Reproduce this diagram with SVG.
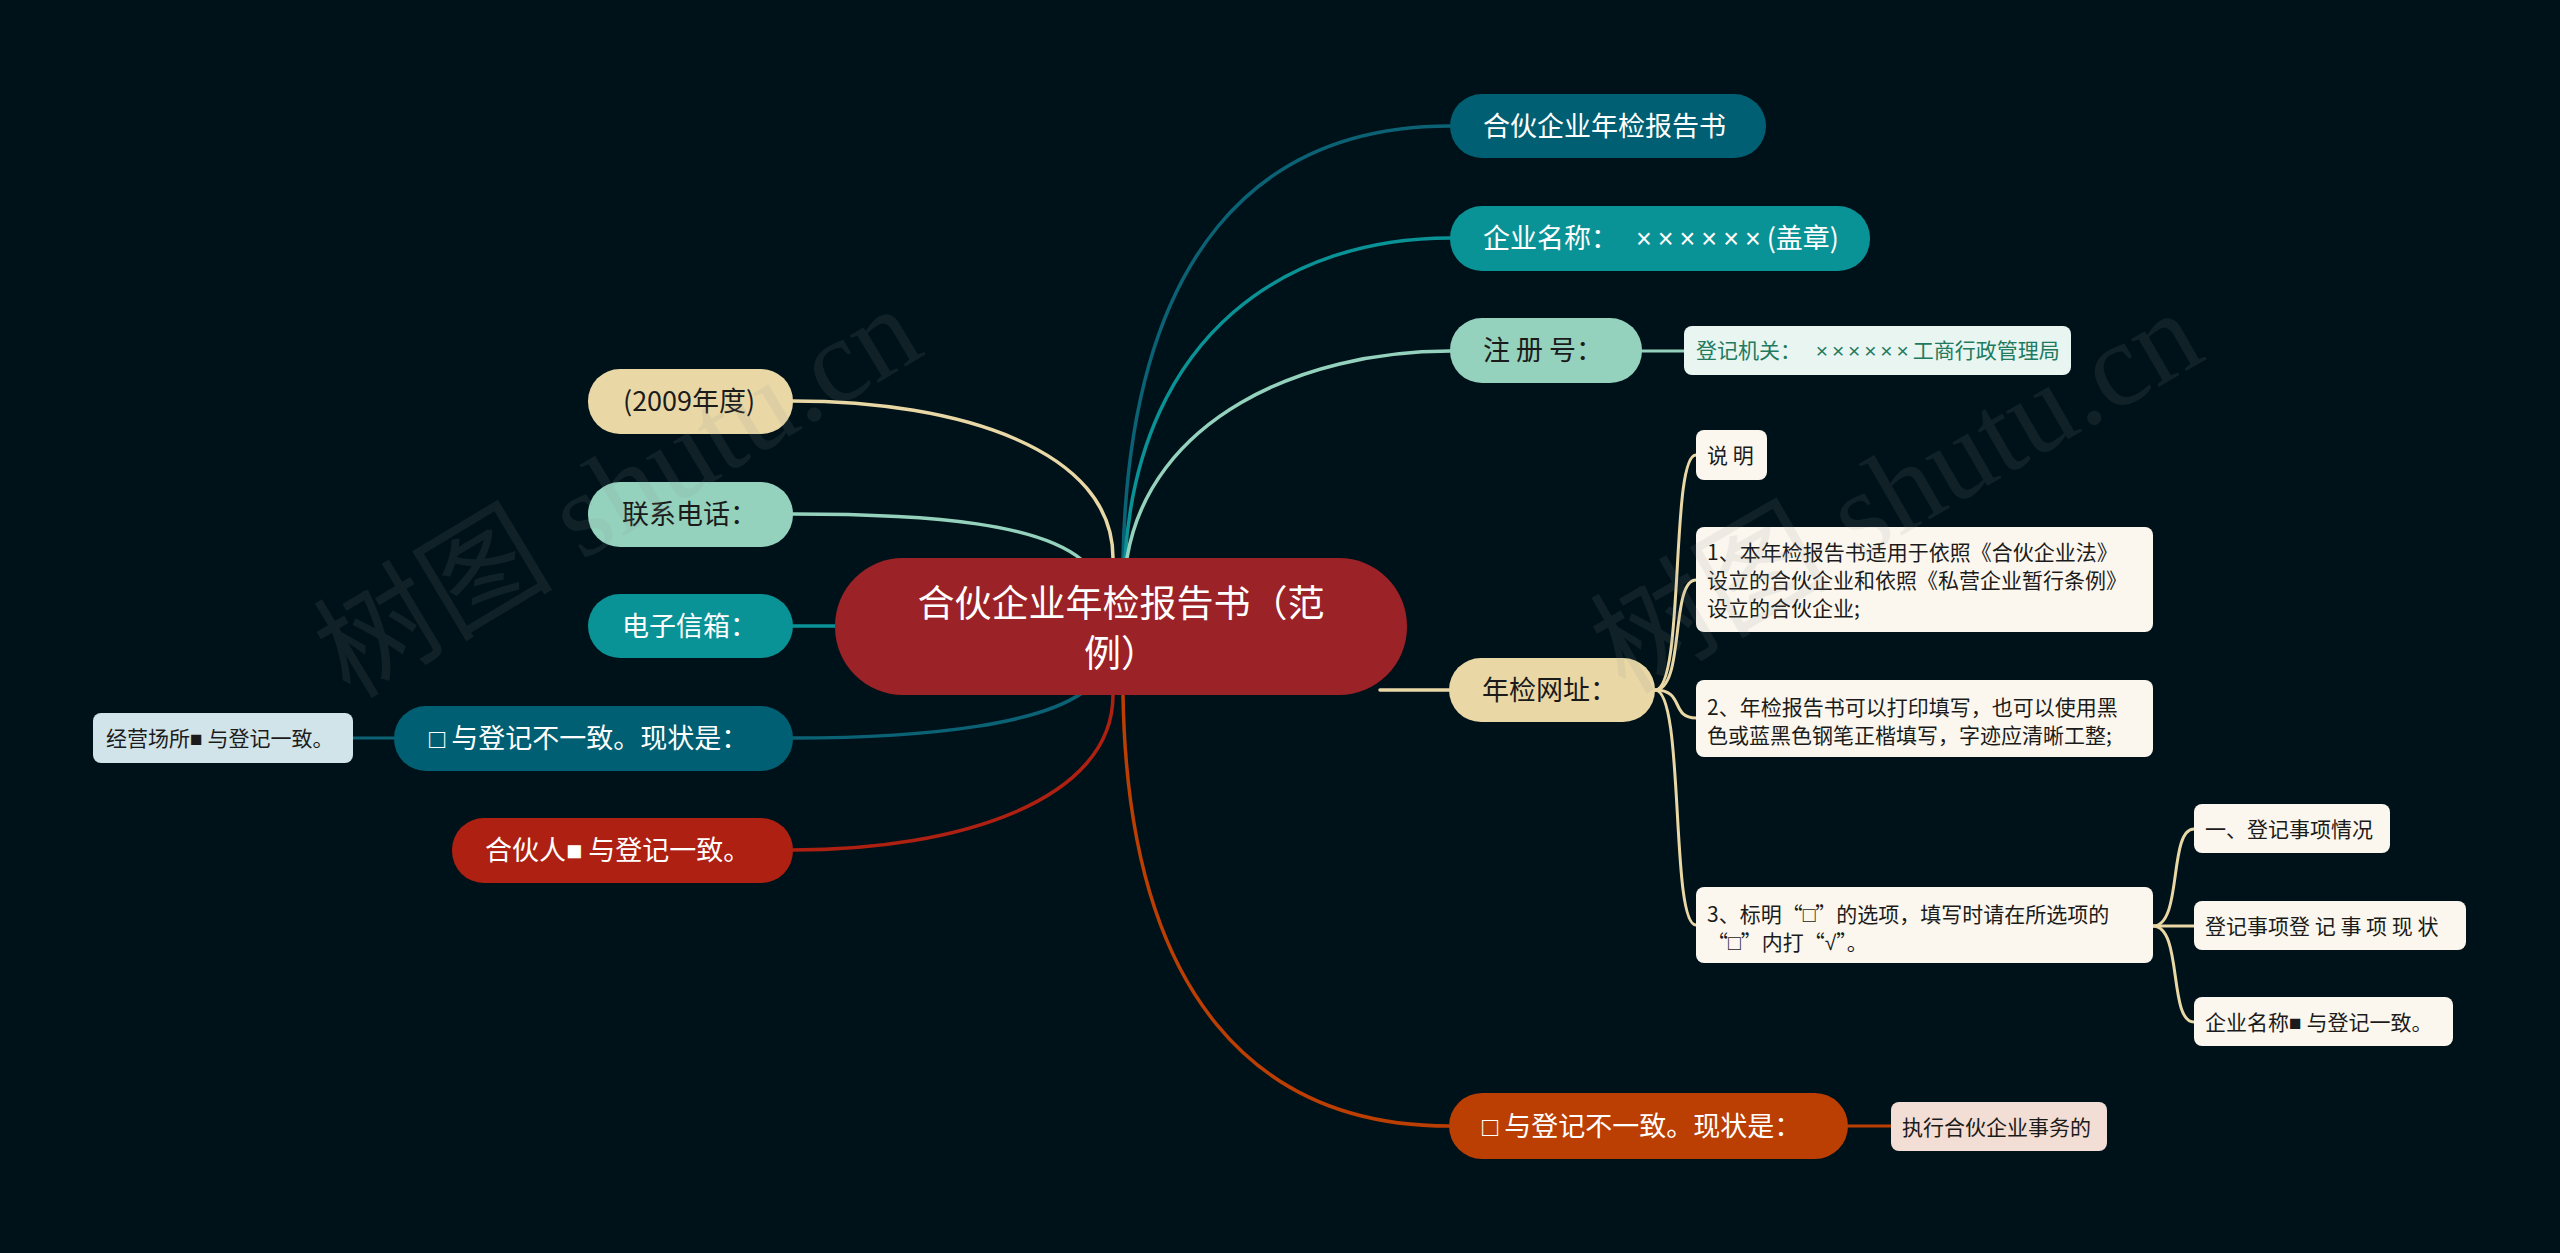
<svg xmlns="http://www.w3.org/2000/svg" width="2560" height="1253" viewBox="0 0 2560 1253">
<style>
  text { font-family: "Noto Sans CJK SC", "Noto Sans", sans-serif; }
  .tc { font-size: 37px; fill: #ffffff; }
  .t1 { font-size: 27px; }
  .ts { font-size: 21px; fill: #1b1b1b; }
  .w { fill: #ffffff; }
  .d { fill: #1b1b1b; }
  .sym { font-family: "Liberation Sans", "DejaVu Sans", sans-serif; }
  .x1 { font-family: "Liberation Sans", sans-serif; letter-spacing: 6px; }
  .x2 { font-family: "Liberation Sans", sans-serif; letter-spacing: 3.9px; }
  .c { fill: none; stroke-width: 3.5; stroke-linecap: round; }
  .cs { fill: none; stroke-width: 3; stroke-linecap: round; }
  .wm { font-family: "Liberation Serif", "Noto Sans CJK SC", serif; font-size: 120px; fill: #8a8f93; opacity: 0.12; }
</style>
<rect x="0" y="0" width="2560" height="1253" fill="#001219"/>

<g id="connectors">
  <path class="c" stroke="#0b6275" d="M1123,558 C1130,250 1260,126 1450,126"/>
  <path class="c" stroke="#0a9396" d="M1125,558 C1140,330 1290,238 1450,238"/>
  <path class="c" stroke="#94d2bd" d="M1127,558 C1150,420 1300,351 1450,351"/>
  <path class="c" stroke="#e9d8a6" d="M793,401 C960,401 1113,450 1113,558"/>
  <path class="c" stroke="#94d2bd" d="M793,514 C940,514 1040,525 1082,560"/>
  <path class="c" stroke="#0a9396" d="M793,626 H840"/>
  <path class="c" stroke="#0b6275" d="M793,738 C940,738 1040,722 1082,693"/>
  <path class="c" stroke="#ae2012" d="M793,850 C960,850 1113,800 1113,695"/>
  <path class="c" stroke="#bb3e03" d="M1123,695 C1128,1000 1260,1126 1449,1126"/>
  <path class="c" stroke="#e9d8a6" d="M1380,690 H1449"/>
  <path class="cs" stroke="#94d2bd" d="M1642,351 H1684"/>
  <path class="cs" stroke="#e9d8a6" d="M1655,690 C1685,690 1670,455 1696,455"/>
  <path class="cs" stroke="#e9d8a6" d="M1655,690 C1685,690 1670,580 1696,580"/>
  <path class="cs" stroke="#e9d8a6" d="M1655,690 C1685,690 1670,718 1696,718"/>
  <path class="cs" stroke="#e9d8a6" d="M1655,690 C1685,690 1670,925 1696,925"/>
  <path class="cs" stroke="#e9d8a6" d="M2153,926 C2183,926 2168,829 2194,829"/>
  <path class="cs" stroke="#e9d8a6" d="M2153,926 H2194"/>
  <path class="cs" stroke="#e9d8a6" d="M2153,926 C2183,926 2168,1022 2194,1022"/>
  <path class="cs" stroke="#0b6275" d="M353,738 H394"/>
  <path class="cs" stroke="#bb3e03" d="M1848,1126 H1891"/>
</g>

<g id="root">
  <rect x="835" y="558" width="572" height="137" rx="68" fill="#9b2226"/>
  <text class="tc" x="1121" y="617" text-anchor="middle">合伙企业年检报告书（范</text>
  <text class="tc" x="1121" y="667" text-anchor="middle">例）</text>
</g>

<g id="n-report">
  <rect x="1450" y="94" width="316" height="64" rx="32" fill="#005f73"/>
  <text class="t1 w" x="1483" y="136">合伙企业年检报告书</text>
</g>
<g id="n-name">
  <rect x="1450" y="206" width="420" height="65" rx="32" fill="#0a9396"/>
  <text class="t1 w" x="1483" y="248">企业名称： <tspan class="x1" dx="12">××××××</tspan>(盖章)</text>
</g>
<g id="n-regno">
  <rect x="1450" y="318" width="192" height="65" rx="32" fill="#94d2bd"/>
  <text class="t1 d" x="1483" y="360">注 册 号：</text>
</g>
<g id="n-authority">
  <rect x="1684" y="326" width="387" height="49" rx="8" fill="#e8f5f1"/>
  <text class="ts" x="1696" y="358" style="fill:#217a5e">登记机关： <tspan class="x2" dx="10">××××××</tspan>工商行政管理局</text>
</g>
<g id="n-web">
  <rect x="1449" y="658" width="206" height="64" rx="32" fill="#e9d8a6"/>
  <text class="t1 d" x="1482" y="700">年检网址：</text>
</g>
<g id="n-note">
  <rect x="1696" y="430" width="71" height="50" rx="8" fill="#fbf7ee"/>
  <text class="ts" x="1707" y="463">说 明</text>
</g>
<g id="n-note1">
  <rect x="1696" y="527" width="457" height="105" rx="8" fill="#fbf7ee"/>
  <text class="ts" x="1707" y="560">1、本年检报告书适用于依照《合伙企业法》</text>
  <text class="ts" x="1707" y="588">设立的合伙企业和依照《私营企业暂行条例》</text>
  <text class="ts" x="1707" y="616">设立的合伙企业;</text>
</g>
<g id="n-note2">
  <rect x="1696" y="680" width="457" height="77" rx="8" fill="#fbf7ee"/>
  <text class="ts" x="1707" y="715">2、年检报告书可以打印填写，也可以使用黑</text>
  <text class="ts" x="1707" y="743">色或蓝黑色钢笔正楷填写，字迹应清晰工整;</text>
</g>
<g id="n-note3">
  <rect x="1696" y="887" width="457" height="76" rx="8" fill="#fbf7ee"/>
  <text class="ts" x="1707" y="922">3、标明“<tspan class="sym">□</tspan>”的选项，填写时请在所选项的</text>
  <text class="ts" x="1707" y="950">“<tspan class="sym">□</tspan>”内打“<tspan class="sym">√</tspan>”。</text>
</g>
<g id="n-items">
  <rect x="2194" y="804" width="196" height="49" rx="8" fill="#fbf7ee"/>
  <text class="ts" x="2205" y="837">一、登记事项情况</text>
</g>
<g id="n-status">
  <rect x="2194" y="901" width="272" height="49" rx="8" fill="#fbf7ee"/>
  <text class="ts" x="2205" y="934">登记事项登 记 事 项 现 状</text>
</g>
<g id="n-namematch">
  <rect x="2194" y="997" width="259" height="49" rx="8" fill="#fbf7ee"/>
  <text class="ts" x="2205" y="1030">企业名称<tspan class="sym">■</tspan> 与登记一致。</text>
</g>
<g id="n-diff-right">
  <rect x="1449" y="1093" width="399" height="66" rx="33" fill="#bb3e03"/>
  <text class="t1 w" x="1482" y="1136"><tspan class="sym">□</tspan> 与登记不一致。现状是：</text>
</g>
<g id="n-exec">
  <rect x="1891" y="1102" width="216" height="49" rx="8" fill="#f3ded5"/>
  <text class="ts" x="1902" y="1135">执行合伙企业事务的</text>
</g>

<g id="n-year">
  <rect x="588" y="369" width="205" height="65" rx="32" fill="#e9d8a6"/>
  <text class="t1 d" x="623" y="411">(2009年度)</text>
</g>
<g id="n-phone">
  <rect x="588" y="482" width="205" height="65" rx="32" fill="#94d2bd"/>
  <text class="t1 d" x="622" y="524">联系电话：</text>
</g>
<g id="n-email">
  <rect x="588" y="594" width="205" height="64" rx="32" fill="#0a9396"/>
  <text class="t1 w" x="622" y="636">电子信箱：</text>
</g>
<g id="n-diff-left">
  <rect x="394" y="706" width="399" height="65" rx="32" fill="#005f73"/>
  <text class="t1 w" x="429" y="748"><tspan class="sym">□</tspan> 与登记不一致。现状是：</text>
</g>
<g id="n-place">
  <rect x="93" y="713" width="260" height="50" rx="8" fill="#d1e4e9"/>
  <text class="ts" x="106" y="746">经营场所<tspan class="sym">■</tspan> 与登记一致。</text>
</g>
<g id="n-partner">
  <rect x="452" y="818" width="341" height="65" rx="32" fill="#ae2012"/>
  <text class="t1 w" x="485" y="860">合伙人<tspan class="sym">■</tspan> 与登记一致。</text>
</g>

<g id="watermark">
  <text class="wm" x="350" y="700" transform="rotate(-31 350 700)">树图 shutu.cn</text>
  <text class="wm" x="1625" y="695" transform="rotate(-30 1625 695)">树图 shutu.cn</text>
</g>
</svg>
